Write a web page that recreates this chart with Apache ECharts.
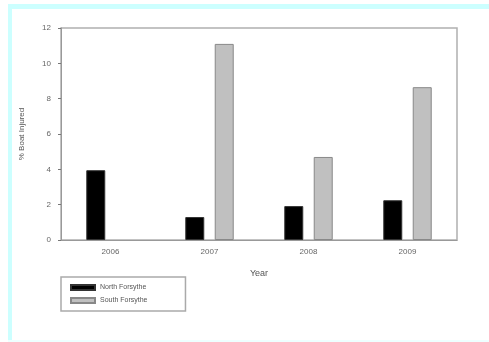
<!DOCTYPE html>
<html>
<head>
<meta charset="utf-8">
<script src="https://cdn.jsdelivr.net/npm/echarts@6/dist/echarts.min.js"></script>
<style>
  html, body { margin: 0; padding: 0; background: #fff; }
  #chart { width: 489px; height: 342px; }
</style>
</head>
<body>
<div id="chart"></div>
<script>
var years = ['2006', '2007', '2008', '2009'];
var north = [3.95, 1.3, 1.92, 2.25];
var south = [null, 11.1, 4.7, 8.65]; // no South bar drawn for 2006
var yTicks = [0, 2, 4, 6, 8, 10, 12];

var chart = echarts.init(document.getElementById('chart'), null, { renderer: 'canvas' });

chart.setOption({
    animation: false,
    textStyle: { fontFamily: 'Liberation Sans, Arial, sans-serif' },
    graphic: [
        // light cyan frame round the picture
        { type: 'rect', shape: { x: 8, y: 4, width: 481, height: 5 }, style: { fill: '#ccffff' } },
        { type: 'rect', shape: { x: 8, y: 4, width: 4, height: 338 }, style: { fill: '#ccffff' } },
        { type: 'rect', shape: { x: 8, y: 340, width: 481, height: 2 }, style: { fill: '#eeffff' } }
    ],
    grid: {
        left: 61, right: 32, top: 28, bottom: 102,
        show: true, borderColor: '#b0b0b0', borderWidth: 1.5, backgroundColor: '#fff'
    },
    legend: {
        orient: 'vertical',
        left: 61, top: 277,
        padding: [7, 38, 7, 9],
        icon: 'rect',
        itemWidth: 24, itemHeight: 5, itemGap: 6,
        borderColor: '#aaa', borderWidth: 1.5,
        textStyle: { fontSize: 7, color: '#555' },
        data: ['North Forsythe', 'South Forsythe']
    },
    xAxis: {
        type: 'category',
        data: years,
        name: 'Year',
        nameLocation: 'middle',
        nameGap: 29,
        nameTextStyle: { fontSize: 9, color: '#555' },
        axisLine: { lineStyle: { color: '#999', width: 1 } },
        axisTick: { alignWithLabel: true, length: 3, lineStyle: { color: '#777' } },
        axisLabel: { fontSize: 8, color: '#666', margin: 8 }
    },
    yAxis: {
        type: 'value',
        min: yTicks[0], max: yTicks[yTicks.length - 1], interval: 2,
        name: '% Boat Injured',
        nameLocation: 'middle',
        nameGap: 35,
        nameTextStyle: { fontSize: 8, color: '#555' },
        axisLine: { show: true, lineStyle: { color: '#999', width: 1 } },
        axisTick: { show: true, length: 3, lineStyle: { color: '#777' } },
        axisLabel: { fontSize: 8, color: '#666', margin: 10 },
        splitLine: { show: false }
    },
    series: [
        {
            name: 'North Forsythe',
            type: 'bar',
            data: north,
            barWidth: 19,
            barGap: '55%',
            itemStyle: { color: '#000', borderColor: '#333', borderWidth: 1 }
        },
        {
            name: 'South Forsythe',
            type: 'bar',
            data: south,
            barWidth: 19,
            itemStyle: { color: '#c0c0c0', borderColor: '#888', borderWidth: 1 }
        }
    ]
});
</script>
</body>
</html>
